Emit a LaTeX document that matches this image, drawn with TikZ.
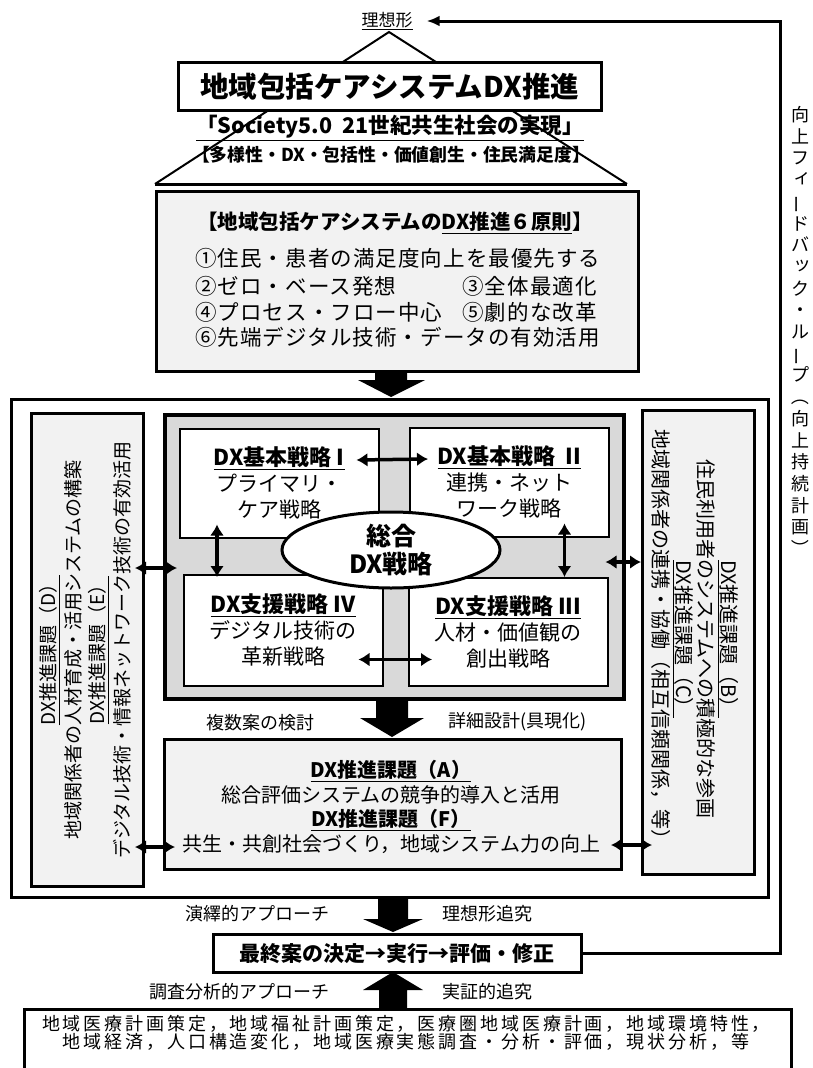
\documentclass[tikz,border=0pt]{standalone}
\usepackage{fontspec}
\setmainfont{Noto Sans CJK JP}
\usepackage{graphicx}
\usetikzlibrary{arrows.meta,shapes.geometric,calc}
\definecolor{panel}{gray}{0.95}
\definecolor{mid}{gray}{0.85}
\newcommand\fs[2]{\fontsize{#1}{#2}\selectfont}
\newcommand\ls[1]{\addfontfeature{LetterSpace=#1}}
\newcommand\st[1]{{\bfseries\fs{22}{26}\underline{#1}}}
\newcommand\vb{\rotatebox[origin=c]{90}{ー}}
\newcommand\rp[1]{\rotatebox[origin=c]{-90}{#1}}
\newcommand\kk[1]{\hspace*{4pt}\raisebox{3pt}{#1}}
\begin{document}
\begin{tikzpicture}[x=1pt,y=-1pt,
  box/.style={draw,line width=3pt,inner sep=0pt,anchor=north west,rectangle},
  sbox/.style={draw,line width=1.5pt,fill=white,inner sep=0pt,anchor=north west,align=center,font=\fs{21}{26}},
  dbl/.style={line width=3.5pt,{Latex[length=11pt,width=14pt]}-{Latex[length=11pt,width=14pt]}},
  lbl/.style={font=\fs{18}{20},inner sep=0pt},
  prin/.style={font=\fs{21.5}{24}\ls{5},inner sep=0pt}]
\useasboundingbox (0,0) rectangle (813,1068);

% ---------- top pyramid ----------
\node[font=\fs{17}{20},inner sep=0pt] (risou) at (387,21) {\underline{理想形}};
\coordinate (apex) at (389,32);
\coordinate (bl) at (155,184);
\coordinate (br) at (627,184);
\draw[line width=2pt] (bl) -- (apex) -- (br);
\draw[line width=3pt] (bl) -- (br);
\node[box,line width=2.5pt,fill=white,minimum width=423pt,minimum height=48pt,font=\bfseries\fs{28.5}{32}] (title) at (177,61) {地域包括ケアシステムDX推進};
\node[font=\bfseries\fs{21.5}{24},inner sep=0pt] (soc) at (390,128) {\underline{「Society5.0\ \ 21世紀共生社会の実現」}};
\node[font=\bfseries\fs{17.8}{20},inner sep=0pt] (tay) at (391,155) {【多様性・DX・包括性・価値創生・住民満足度】};

% ---------- six principles ----------
\node[box,fill=panel,minimum width=482pt,minimum height=180pt] (p6) at (155,190) {};
\node[font=\bfseries\fs{20.5}{24},inner sep=0pt] (p6h) at (395,223) {【地域包括ケアシステムの\underline{DX推進６原則}】};
\node[prin,anchor=west] (r1) at (195,258) {①住民・患者の満足度向上を最優先する};
\node[prin,anchor=west] (r2) at (195,286) {②ゼロ・ベース発想};
\node[prin,anchor=east] (r3) at (597,286) {③全体最適化};
\node[prin,anchor=west] (r4) at (195,312) {④プロセス・フロー中心};
\node[prin,anchor=east] (r5) at (597,312) {⑤劇的な改革};
\node[prin,anchor=west] (r6) at (195,337) {⑥先端デジタル技術・データの有効活用};

\fill (375,370) -- (407,370) -- (407,380) -- (425,380) -- (391,397) -- (358,380) -- (375,380) -- cycle;

% ---------- big frame ----------
\node[box,minimum width=757pt,minimum height=498pt] (frame) at (10,398) {};
\node[box,fill=panel,minimum width=112pt,minimum height=473pt] (lp) at (30,412) {};
\node[box,fill=panel,minimum width=112pt,minimum height=464pt] (rp) at (641,409) {};
\node[rotate=90,align=center,font=\fs{19}{24.5}] (lpt) at (85,650) {\underline{DX推進課題（D）}\\地域関係者の人材育成・活用システムの構築\\\underline{DX推進課題（E）}\\デジタル技術・情報ネットワーク技術の有効活用};
\node[rotate=-90,align=center,font=\fs{20}{22.7}] (rpt) at (695,639) {\underline{DX推進課題（B）}\\住民利用者のシステムへの積極的な参画\\\underline{DX推進課題（C）}\\地域関係者の連携・協働（相互信頼関係，等）};

\node[box,line width=3.5pt,fill=mid,minimum width=459pt,minimum height=284pt] (gb) at (163,413) {};
\node[sbox,minimum width=199pt,minimum height=109pt] (b1) at (179,428) {\st{DX基本戦略 I}\\プライマリ・\\ケア戦略};
\node[sbox,minimum width=199pt,minimum height=109pt] (b2) at (409,427) {\st{DX基本戦略 \ II}\\連携・ネット\\ワーク戦略};
\node[sbox,minimum width=199pt,minimum height=111pt] (b4) at (183,574) {\st{DX支援戦略 IV}\\デジタル技術の\\革新戦略};
\node[sbox,minimum width=199pt,minimum height=108pt] (b3) at (408,577) {\st{DX支援戦略 III}\\人材・価値観の\\創出戦略};
\node[ellipse,draw,line width=3pt,fill=white,minimum width=218pt,minimum height=76pt,inner sep=0pt,align=center,font=\bfseries\fs{25}{28}] (sogo) at (391,550) {総合\\DX戦略};

\draw[dbl] ($(b1.north east)+(-23,32)$) -- ($(b2.north west)+(19,32)$);
\draw[dbl] ($(b1.south west)+(38,-14)$) -- ($(b4.north west)+(34,3)$);
\draw[dbl] ($(b2.south east)+(-45,-14)$) -- ($(b3.north east)+(-44,0)$);
\draw[dbl] ($(b4.south east)+(-25,-27)$) -- ($(b3.south west)+(24,-27)$);
\draw[dbl] ($(lp.north east)+(-10,156)$) -- ($(gb.north west)+(14,155)$);
\draw[dbl] ($(gb.north east)+(-20,149)$) -- ($(rp.north west)+(0,153)$);

\fill (376,697) -- (408,697) -- (408,718) -- (424,718) -- (392,737) -- (360,718) -- (376,718) -- cycle;
\node[lbl,anchor=east] (fuku) at (315,723) {複数案の検討};
\node[lbl,anchor=west] (shou) at (448,722) {詳細設計(具現化)};

\node[box,fill=panel,minimum width=457pt,minimum height=130pt] (af) at (163,738) {};
\node[align=center,font=\fs{20}{24.7}] (aft) at (391,807) {\textbf{\underline{DX推進課題（A）}}\\総合評価システムの競争的導入と活用\\\textbf{\underline{DX推進課題（F）}}\\共生・共創社会づくり，地域システム力の向上};
\draw[dbl] ($(lp.south east)+(-10,-41)$) -- ($(af.south west)+(12,-24)$);
\draw[dbl] ($(af.south east)+(-12,-26)$) -- ($(rp.south west)+(11,-31)$);

% ---------- bottom ----------
\fill (378,896) -- (408,896) -- (408,919) -- (423,919) -- (393,932) -- (363,919) -- (378,919) -- cycle;
\node[lbl,anchor=east] (enn) at (330,914) {演繹的アプローチ};
\node[lbl,anchor=west] (ris2) at (442,914) {理想形追究};
\node[box,line width=2.5pt,fill=white,minimum width=368pt,minimum height=38pt,font=\bfseries\fs{21}{24}] (fin) at (212,933) {最終案の決定→実行→評価・修正};
\fill (379,1008) -- (407,1008) -- (407,990) -- (423,990) -- (393,972) -- (363,990) -- (379,990) -- cycle;
\node[lbl,anchor=east] (chou) at (330,992) {調査分析的アプローチ};
\node[lbl,anchor=west] (jis) at (442,992) {実証的追究};
\node[box,line width=2.5pt,minimum width=767pt,minimum height=80pt] (bot) at (23,1008) {};
\node[align=center,font=\fs{18}{18.5}\ls{16}] (bott) at (406,1033) {地域医療計画策定，地域福祉計画策定，医療圏地域医療計画，地域環境特性，\\地域経済，人口構造変化，地域医療実態調査・分析・評価，現状分析，等};

% ---------- feedback loop ----------
\coordinate (fbc) at (780,21);
\draw[line width=3pt,-{Latex[length=13pt,width=11pt]}] (fin.east) -| (fbc) -- ($(risou.east)+(14,0)$);
\node[align=center,font=\fs{18}{21.7},inner sep=0pt] (fbt) at (800,332) {向\\上\\フ\\\kk{ィ}\\\vb\\ド\\バ\\\kk{ッ}\\ク\\・\\ル\\\vb\\プ\\\rp{（}\\向\\上\\持\\続\\計\\画\\\rp{）}};
\end{tikzpicture}
\end{document}
